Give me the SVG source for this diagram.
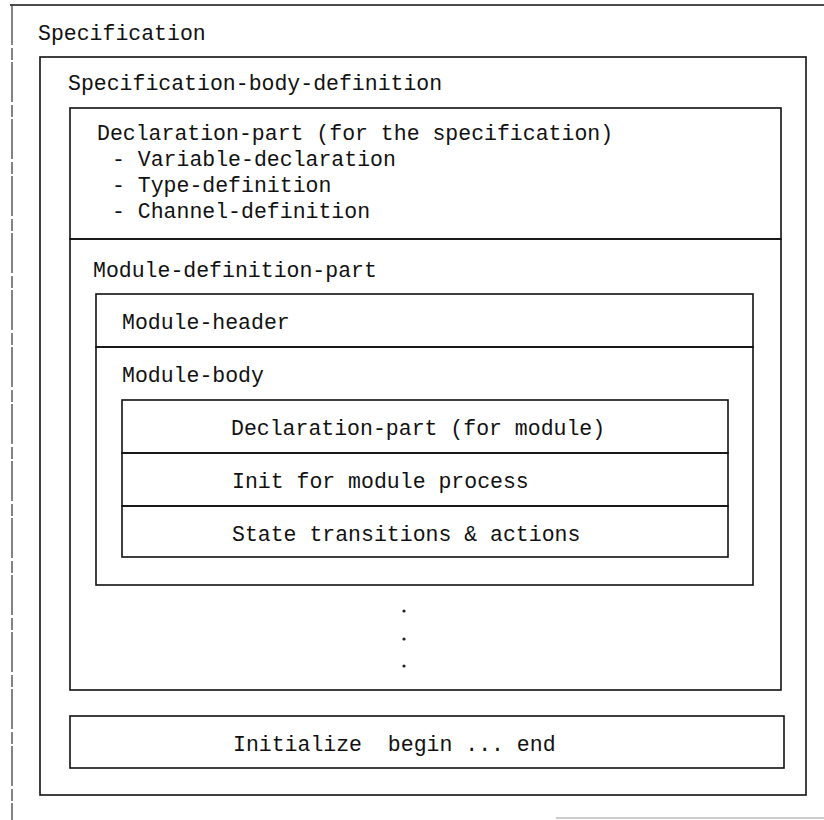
<svg xmlns="http://www.w3.org/2000/svg" width="824" height="820" viewBox="0 0 824 820">
<style>
.box{fill:none;stroke:#111;stroke-width:1.6}
.ln{stroke:#111;stroke-width:1.6;fill:none}
.t{font-family:"Liberation Mono","Courier New",monospace;font-size:21.5px;fill:#111}
.dot{fill:#222}
</style>
<rect width="824" height="820" fill="#fff"/>
<g id="specification">
<line class="ln" x1="10" y1="5" x2="824" y2="5"/>
<line x1="12" y1="5" x2="12" y2="820" stroke="#333" stroke-width="1.2" stroke-dasharray="40 3 12 2"/>
<line x1="556" y1="818" x2="824" y2="818" stroke="#bbb" stroke-width="1.5"/>
<text class="t" x="38" y="40">Specification</text>
</g>
<g id="spec-body">
<rect class="box" x="40" y="57" width="766" height="738"/>
<text class="t" x="68" y="90">Specification-body-definition</text>
</g>
<g id="declaration-part">
<rect class="box" x="70" y="108" width="711" height="131"/>
<text class="t" x="97" y="140">Declaration-part (for the specification)</text>
<text class="t" x="112" y="166">- Variable-declaration</text>
<text class="t" x="112" y="192">- Type-definition</text>
<text class="t" x="112" y="218">- Channel-definition</text>
</g>
<g id="module-definition-part">
<rect class="box" x="70" y="239" width="711" height="451"/>
<text class="t" x="93" y="277">Module-definition-part</text>
<g class="dot">
<circle cx="404" cy="611" r="1.6"/>
<circle cx="404" cy="639" r="1.6"/>
<circle cx="404" cy="666" r="1.6"/>
</g>
</g>
<g id="module-header">
<rect class="box" x="96" y="294" width="657" height="53"/>
<text class="t" x="122" y="329">Module-header</text>
</g>
<g id="module-body">
<rect class="box" x="96" y="347" width="657" height="238"/>
<text class="t" x="122" y="382">Module-body</text>
</g>
<g id="decl-module">
<rect class="box" x="122" y="400" width="606" height="53"/>
<text class="t" x="231" y="435">Declaration-part (for module)</text>
</g>
<g id="init-module">
<rect class="box" x="122" y="453" width="606" height="53"/>
<text class="t" x="232" y="488">Init for module process</text>
</g>
<g id="state-transitions">
<rect class="box" x="122" y="506" width="606" height="51"/>
<text class="t" x="232" y="541">State transitions &amp; actions</text>
</g>
<g id="initialize">
<rect class="box" x="70" y="716" width="714" height="52"/>
<text class="t" x="233" y="751" xml:space="preserve">Initialize  begin ... end</text>
</g>
<g id="connectors"/>
</svg>
